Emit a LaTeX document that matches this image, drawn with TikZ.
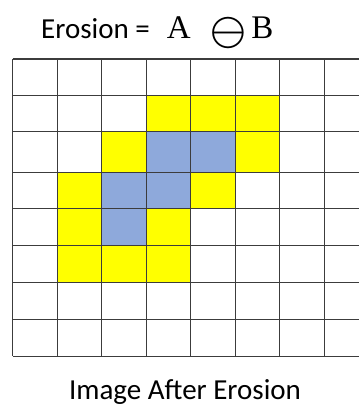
\documentclass[tikz,border=0pt]{standalone}
\usepackage{fontspec}
\usepackage{unicode-math}
\setmainfont{Carlito}
\setmathfont{Latin Modern Math}
\newfontfamily\letterfont{Liberation Serif}
\definecolor{eroyellow}{RGB}{255,255,0}
\definecolor{eroblue}{RGB}{142,169,219}
\definecolor{erogrid}{RGB}{60,60,60}
\usetikzlibrary{positioning}

\begin{document}
\begin{tikzpicture}[x=1pt,y=-1pt,
    gridline/.style={erogrid, line width=1.3pt},
    label/.style={font=\fontsize{29}{32}\selectfont, inner sep=0pt}]
  \useasboundingbox (0,0) rectangle (359,405);
  \def\rowtops{{59,95.7,131.7,172.3,208.7,245.7,282.5,319.3,356.3}}

  % Title
  \node[label, anchor=base west] (title) at (41,38.3)
    {Erosion =\hspace{17pt}{\fontsize{33}{36}\letterfont A}\hspace{20pt}%
     \raisebox{-6pt}{\fontsize{46}{46}\selectfont$\ominus$}\hspace{5pt}{\fontsize{33}{36}\letterfont B}};

  \begin{scope}
    \clip (0,0) rectangle (359,405);

    % Eroded set (yellow) and result (blue)
    \foreach \c/\r/\col in {4/2/eroyellow, 5/2/eroyellow, 6/2/eroyellow,
                            3/3/eroyellow, 4/3/eroblue, 5/3/eroblue, 6/3/eroyellow,
                            2/4/eroyellow, 3/4/eroblue, 4/4/eroblue, 5/4/eroyellow,
                            2/5/eroyellow, 3/5/eroblue, 4/5/eroyellow,
                            2/6/eroyellow, 3/6/eroyellow, 4/6/eroyellow} {
      \pgfmathsetmacro\xa{12.7+44.5*(\c-1)}
      \pgfmathsetmacro\ya{\rowtops[\r-1]}
      \pgfmathsetmacro\yb{\rowtops[\r]}
      \fill[\col] (\xa,\ya) rectangle (\xa+44.5,\yb);
    }

    % Grid
    \foreach \i in {0,...,8} {
      \pgfmathsetmacro\y{\rowtops[\i]}
      \draw[gridline] (12.7,\y) -- (370,\y);
    }
    \foreach \i in {0,...,7}
      \draw[gridline] (12.7+44.5*\i,59) -- (12.7+44.5*\i,356.3);
  \end{scope}

  % Caption
  \node[label, anchor=base] (caption) at (185,399.5) {Image After Erosion};
\end{tikzpicture}
\end{document}
